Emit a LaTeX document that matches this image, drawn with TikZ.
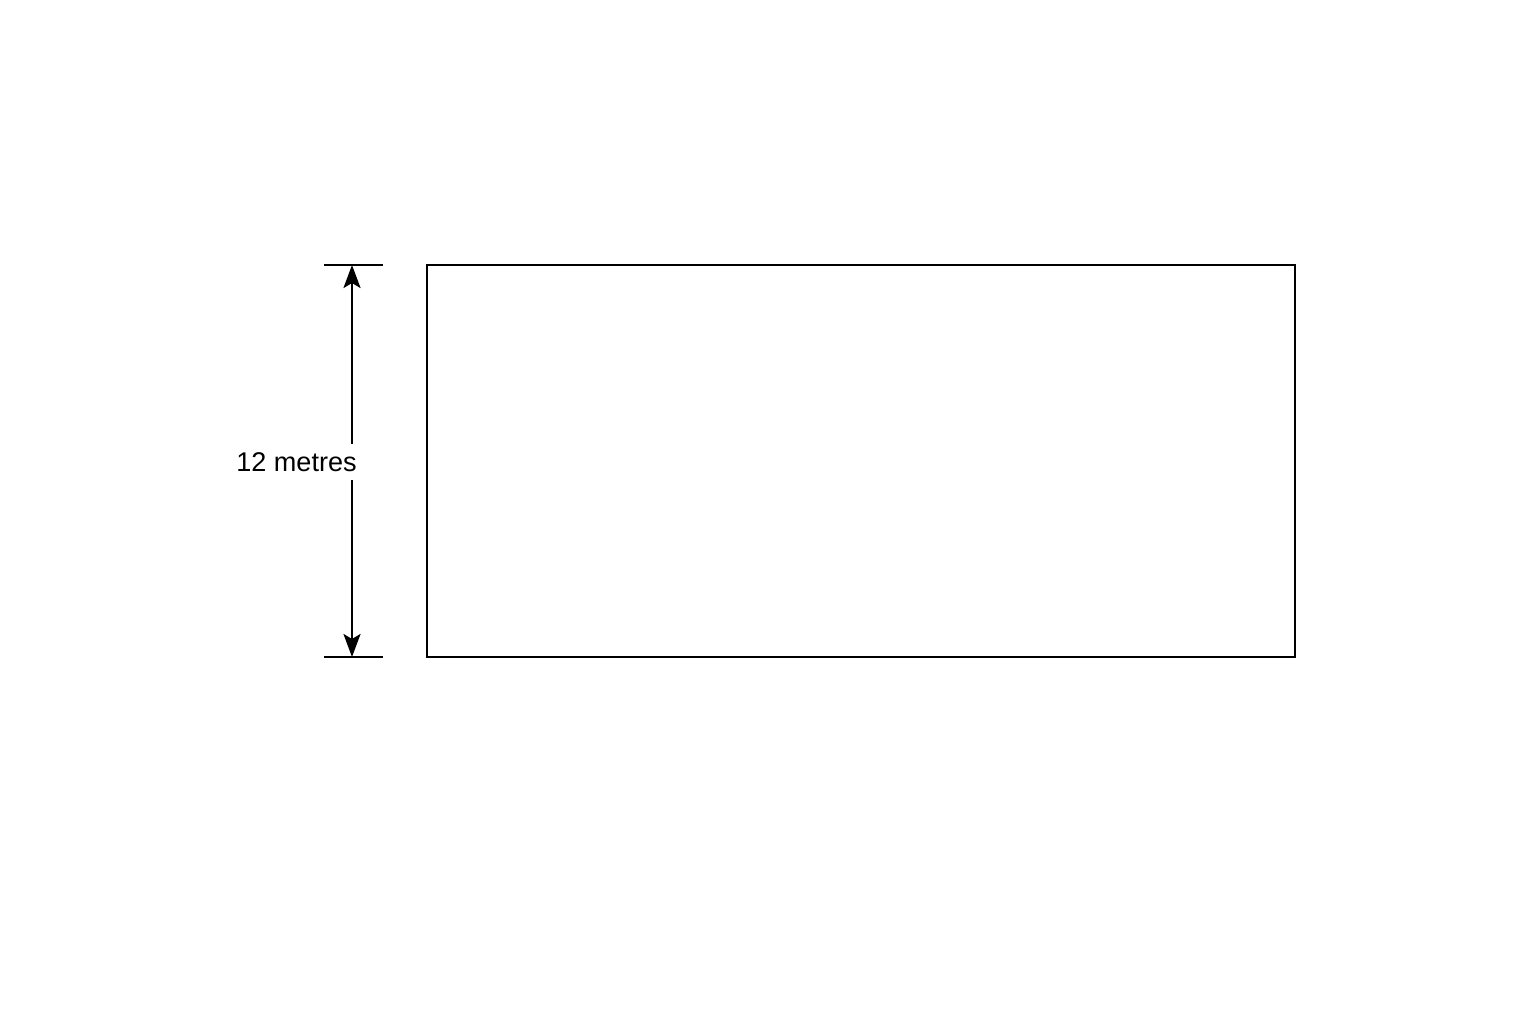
\documentclass[tikz,border=0pt]{standalone}
\usepackage{fontspec}
\setmainfont{Liberation Sans}
\usetikzlibrary{arrows.meta}
\tikzstyle{plotEdge}=[draw, line width = 0.7pt]
\tikzstyle{dimTick}=[line width = 0.7pt]
\tikzstyle{dimLabel}=[fill = white, inner xsep = 0.5pt, inner ysep = 2.5pt, font = \fontsize{7.7}{9}\selectfont]

\begin{document}
\begin{tikzpicture}
\useasboundingbox (0,0) rectangle (15.36,10.24);
\node[plotEdge, shape = rectangle, minimum width = 8.68cm, minimum height = 3.92cm, inner sep = 0pt, outer sep = 0pt] (plot) at (8.61,5.63) {};
\coordinate (t1) at (3.24,7.59);
\coordinate (t2) at (3.83,7.59);
\coordinate (b1) at (3.24,3.67);
\coordinate (b2) at (3.83,3.67);
\coordinate (up) at (3.52,7.59);
\coordinate (dn) at (3.52,3.67);
\draw[dimTick] (t1) -- (t2);
\draw[dimTick] (b1) -- (b2);
\draw[dimTick, {Stealth[length=2.3mm, width=1.7mm, inset=0.5mm]}-{Stealth[length=2.3mm, width=1.7mm, inset=0.5mm]}] (up) -- (dn);
\node[dimLabel] (width) at (2.965,5.62) {12 metres};
\end{tikzpicture}
\end{document}
